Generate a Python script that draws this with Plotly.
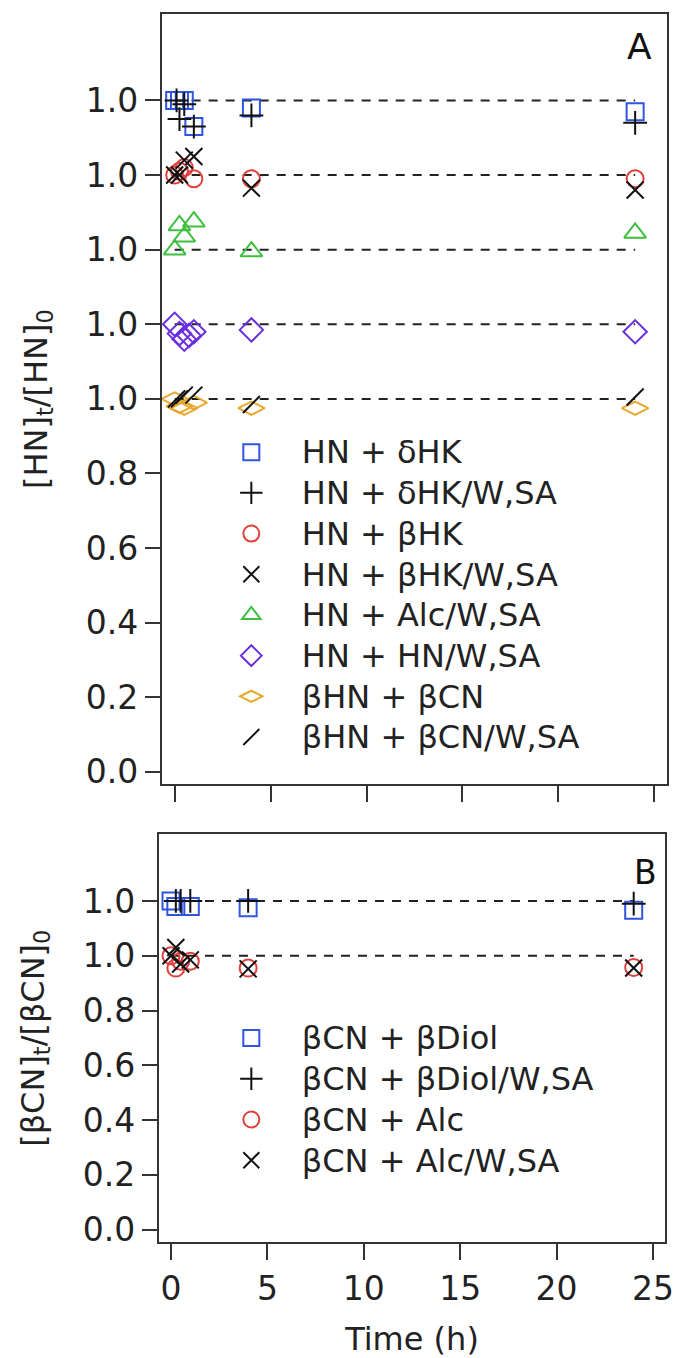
import plotly.graph_objects as go

# ---------------- Panel A data (normalized [HN]t/[HN]0, plotted with vertical offsets) -------------
a_names = ["HN + δHK", "HN + δHK/W,SA", "HN + βHK", "HN + βHK/W,SA",
           "HN + Alc/W,SA", "HN + HN/W,SA", "βHN + βCN", "βHN + βCN/W,SA"]
a_offsets = [0.8, 0.8, 0.6, 0.6, 0.4, 0.2, 0.0, 0.0]

a_t_dhk = [0, 0.25, 0.5, 1, 4, 24]
a_v_dhk = [1.00, 1.00, 1.00, 0.93, 0.98, 0.97]
a_t_dhk_w = [0.1, 0.25, 0.5, 1, 4, 24]
a_v_dhk_w = [1.00, 0.95, 0.99, 0.93, 0.96, 0.94]
a_t_bhk = [0, 0.25, 0.5, 1, 4, 24]
a_v_bhk = [1.00, 1.01, 1.02, 0.99, 0.99, 0.99]
a_t_bhk_w = [0, 0.25, 0.5, 1, 4, 24]
a_v_bhk_w = [1.00, 1.00, 1.04, 1.05, 0.965, 0.96]
a_t_alc_w = [0, 0.25, 0.5, 1, 4, 24]
a_v_alc_w = [1.00, 1.065, 1.035, 1.075, 0.995, 1.045]
a_t_hn_w = [0, 0.25, 0.5, 0.75, 1, 4, 24]
a_v_hn_w = [1.00, 0.975, 0.96, 0.97, 0.98, 0.985, 0.98]
a_t_bcn = [0, 0.25, 0.5, 1, 4, 24]
a_v_bcn = [1.00, 0.98, 0.975, 0.99, 0.975, 0.975]
a_t_bcn_w = [0.1, 0.25, 0.5, 1, 4, 24]
a_v_bcn_w = [1.00, 1.00, 1.01, 1.01, 0.985, 1.005]

a_times = [a_t_dhk, a_t_dhk_w, a_t_bhk, a_t_bhk_w, a_t_alc_w, a_t_hn_w, a_t_bcn, a_t_bcn_w]
a_vals = [a_v_dhk, a_v_dhk_w, a_v_bhk, a_v_bhk_w, a_v_alc_w, a_v_hn_w, a_v_bcn, a_v_bcn_w]

a_ref_levels = [1.8, 1.6, 1.4, 1.2, 1.0]
a_tickvals = [0, 0.2, 0.4, 0.6, 0.8, 1.0, 1.2, 1.4, 1.6, 1.8]
a_ticktext = ["0.0", "0.2", "0.4", "0.6", "0.8", "1.0", "1.0", "1.0", "1.0", "1.0"]

# ---------------- Panel B data ----------------
b_names = ["βCN + βDiol", "βCN + βDiol/W,SA", "βCN + Alc", "βCN + Alc/W,SA"]
b_offsets = [0.2, 0.2, 0.0, 0.0]
b_t_diol = [0, 0.25, 1, 4, 24]
b_v_diol = [1.00, 0.98, 0.98, 0.975, 0.966]
b_t_diol_w = [0.25, 0.5, 1, 4, 24]
b_v_diol_w = [1.00, 1.00, 1.00, 1.00, 0.99]
b_t_alc = [0, 0.25, 0.5, 1, 4, 24]
b_v_alc = [1.00, 0.955, 0.98, 0.98, 0.955, 0.957]
b_t_alc_w = [0, 0.25, 0.5, 1, 4, 24]
b_v_alc_w = [1.00, 1.03, 0.97, 0.985, 0.952, 0.955]
b_times = [b_t_diol, b_t_diol_w, b_t_alc, b_t_alc_w]
b_vals = [b_v_diol, b_v_diol_w, b_v_alc, b_v_alc_w]

b_ref_levels = [1.2, 1.0]
b_tickvals = [0, 0.2, 0.4, 0.6, 0.8, 1.0, 1.2]
b_ticktext = ["0.0", "0.2", "0.4", "0.6", "0.8", "1.0", "1.0"]

ref_t = [0, 24]
x_tickvals = [0, 5, 10, 15, 20, 25]

# ---------------- styles ----------------
a_styles = [
    ("square-open", "#2f55e0", 17),
    ("cross-thin-open", "#111111", 17),
    ("circle-open", "#e0403a", 17),
    ("x-thin-open", "#111111", 17),
    ("triangle-up-open", "#3fbf3f", 19),
    ("diamond-open", "#6a2fe0", 18),
    ("diamond-wide-open", "#e8a82c", 19),
    ("line-ne-open", "#111111", 17),
]
b_styles = [
    ("square-open", "#2f55e0", 17),
    ("cross-thin-open", "#111111", 17),
    ("circle-open", "#e0403a", 17),
    ("x-thin-open", "#111111", 17),
]

FONT = "DejaVu Sans, Verdana, sans-serif"
W, H = 683, 1358


def px_x(p):
    return p / W


def px_y(p):
    return 1 - p / H


def legend_label(name):
    # slightly larger glyphs than the legend's row spacing font
    return '<span style="font-size:32px">' + name + "</span>"


fig = go.Figure()

for lvl in a_ref_levels:
    fig.add_trace(go.Scatter(x=ref_t, y=[lvl, lvl], mode="lines", showlegend=False,
                             line=dict(color="#222222", width=2, dash="9px,8px"),
                             xaxis="x", yaxis="y", hoverinfo="skip"))
for lvl in b_ref_levels:
    fig.add_trace(go.Scatter(x=ref_t, y=[lvl, lvl], mode="lines", showlegend=False,
                             line=dict(color="#222222", width=2, dash="9px,8px"),
                             xaxis="x2", yaxis="y2", hoverinfo="skip"))

for name, off, t, v, (sym, col, sz) in zip(a_names, a_offsets, a_times, a_vals, a_styles):
    fig.add_trace(go.Scatter(
        x=t, y=[val + off for val in v], mode="markers", name=legend_label(name),
        marker=dict(symbol=sym, size=sz, color=col, line=dict(color=col, width=2)),
        xaxis="x", yaxis="y", legend="legend"))

for name, off, t, v, (sym, col, sz) in zip(b_names, b_offsets, b_times, b_vals, b_styles):
    fig.add_trace(go.Scatter(
        x=t, y=[val + off for val in v], mode="markers", name=legend_label(name),
        marker=dict(symbol=sym, size=sz, color=col, line=dict(color=col, width=2)),
        xaxis="x2", yaxis="y2", legend="legend2"))

axis_common = dict(showline=True, linecolor="#333333", linewidth=2, mirror=True,
                   ticks="outside", tickcolor="#333333", tickwidth=2,
                   showgrid=False, zeroline=False, ticklabeloverflow="allow",
                   tickfont=dict(family=FONT, size=33, color="#222222"))
title_font = dict(family=FONT, size=32, color="#222222")
legend_font = dict(family=FONT, size=29, color="#222222")

fig.update_layout(
    width=W, height=H,
    margin=dict(l=0, r=0, t=0, b=0),
    paper_bgcolor="white", plot_bgcolor="white",
    font=dict(family=FONT, size=30, color="#222222"),
    xaxis=dict(domain=[px_x(164), px_x(675.5)], range=[-0.669, 25.64], anchor="y",
               tickvals=x_tickvals, showticklabels=False, ticklen=16, **axis_common),
    yaxis=dict(domain=[px_y(788.3), px_y(14)], range=[-0.033, 2.032], anchor="x",
               tickvals=a_tickvals, ticktext=a_ticktext, ticklen=15,
               title=dict(text="[HN]<sub>t</sub>/[HN]<sub>0</sub>", font=title_font, standoff=29),
               **axis_common),
    xaxis2=dict(domain=[px_x(161), px_x(674)], range=[-0.63, 25.63], anchor="y2",
                tickvals=x_tickvals, ticklen=16,
                title=dict(text="Time (h)", font=title_font, standoff=22),
                **axis_common),
    yaxis2=dict(domain=[px_y(1248.5), px_y(838.7)], range=[-0.045, 1.443], anchor="x2",
                tickvals=b_tickvals, ticktext=b_ticktext, ticklen=15,
                title=dict(text="[βCN]<sub>t</sub>/[βCN]<sub>0</sub>", font=title_font, standoff=29),
                **axis_common),
    legend=dict(x=px_x(203.5), y=px_y(429), xanchor="left", yanchor="top",
                bgcolor="rgba(0,0,0,0)", font=legend_font, itemwidth=91, tracegroupgap=0),
    legend2=dict(x=px_x(203.5), y=px_y(1018), xanchor="left", yanchor="top",
                 bgcolor="rgba(0,0,0,0)", font=legend_font, itemwidth=91, tracegroupgap=0),
    annotations=[
        dict(text="A", x=px_x(648), y=px_y(47), xref="paper", yref="paper",
             xanchor="center", yanchor="middle", showarrow=False,
             font=dict(family=FONT, size=36, color="#111111")),
        dict(text="B", x=px_x(654), y=px_y(877), xref="paper", yref="paper",
             xanchor="center", yanchor="middle", showarrow=False,
             font=dict(family=FONT, size=33, color="#111111")),
    ],
)

# remove the browser's default 8 px body margin so the figure fills the window exactly
fig.write_html("out.html",
               config={"displayModeBar": False},
               post_script="document.body.style.margin='0';document.body.style.overflow='hidden';")
